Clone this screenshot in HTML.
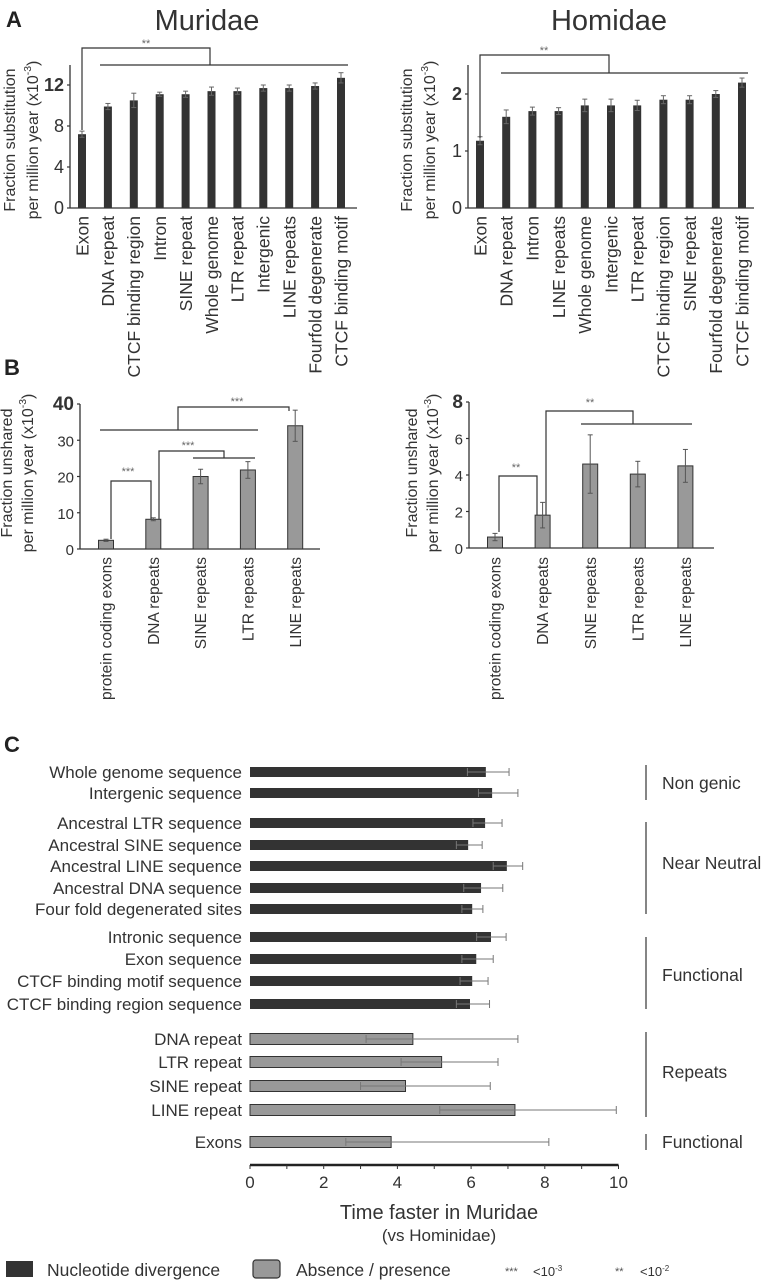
<!DOCTYPE html>
<html><head><meta charset="utf-8">
<style>
html,body{margin:0;padding:0;background:#fff;}
svg{display:block;font-family:"Liberation Sans",Arial,sans-serif;}
</style></head>
<body>
<svg id="fig" width="764" height="1280" viewBox="0 0 764 1280" xmlns="http://www.w3.org/2000/svg">
<text x="6" y="27" font-size="22" font-weight="bold" fill="#222">A</text>
<text x="207" y="30" font-size="29" text-anchor="middle" fill="#333">Muridae</text>
<text x="609" y="30" font-size="29" text-anchor="middle" fill="#333">Homidae</text>
<text x="4" y="375" font-size="22" font-weight="bold" fill="#222">B</text>
<text x="4" y="752" font-size="22" font-weight="bold" fill="#222">C</text>
<g id="root"></g>
</svg>
<script>
// ---- Panel A data ----
const aLeftCats = ["Exon","DNA repeat","CTCF binding region","Intron","SINE repeat","Whole genome","LTR repeat","Intergenic","LINE repeats","Fourfold degenerate","CTCF binding motif"];
const aLeftVals = [7.2,9.9,10.5,11.1,11.1,11.4,11.4,11.7,11.7,11.9,12.7];
const aLeftErr = [0.3,0.3,0.7,0.2,0.3,0.4,0.3,0.3,0.3,0.3,0.5];
const aLeftTicks = [0,4,8,12];
const aRightCats = ["Exon","DNA repeat","Intron","LINE repeats","Whole genome","Intergenic","LTR repeat","CTCF binding region","SINE repeat","Fourfold degenerate","CTCF binding motif"];
const aRightVals = [1.18,1.6,1.7,1.7,1.8,1.8,1.8,1.9,1.9,2.0,2.2];
const aRightErr = [0.07,0.12,0.07,0.06,0.11,0.11,0.09,0.07,0.07,0.06,0.08];
const aRightTicks = [0,1,2];
// ---- Panel B data ----
const bCats = ["protein coding exons","DNA repeats","SINE repeats","LTR repeats","LINE repeats"];
const bLeftVals = [2.4,8.2,20,21.8,34];
const bLeftErr = [0.3,0.4,2.0,2.3,4.3];
const bLeftTicks = [0,10,20,30,40];
const bRightVals = [0.6,1.8,4.6,4.05,4.5];
const bRightErr = [0.2,0.7,1.6,0.7,0.9];
const bRightTicks = [0,2,4,6,8];
// ---- Panel C data ----
const cCats = ["Whole genome sequence","Intergenic sequence","Ancestral LTR sequence","Ancestral SINE sequence","Ancestral LINE sequence","Ancestral DNA sequence","Four fold degenerated sites","Intronic sequence","Exon sequence","CTCF binding motif sequence","CTCF binding region sequence","DNA repeat","LTR repeat","SINE repeat","LINE repeat","Exons"];
const cVals = [6.4,6.57,6.38,5.92,6.97,6.27,6.03,6.54,6.14,6.03,5.97,4.42,5.2,4.22,7.19,3.83];
const cErrHi = [7.03,7.27,6.84,6.3,7.4,6.86,6.32,6.95,6.6,6.46,6.5,7.27,6.73,6.52,9.94,8.11];
const cErrLo = [5.9,6.2,6.05,5.6,6.6,5.8,5.75,6.15,5.75,5.7,5.6,3.15,4.1,3.0,5.15,2.6];
const cType = ["n","n","n","n","n","n","n","n","n","n","n","p","p","p","p","p"];
const cTicks = [0,2,4,6,8,10];

const NS="http://www.w3.org/2000/svg";
const root=document.getElementById('root');
function mk(tag,attrs,parent){const e=document.createElementNS(NS,tag);for(const k in attrs)e.setAttribute(k,attrs[k]);(parent||root).appendChild(e);return e;}
function ln(x1,y1,x2,y2,c,w){return mk('line',{x1,y1,x2,y2,stroke:c||'#333','stroke-width':w||1.2});}
function tx(x,y,s,size,anchor,extra){const t=mk('text',Object.assign({x,y,'font-size':size,'text-anchor':anchor||'start',fill:'#333'},extra||{}));t.textContent=s;return t;}

function vchart(o){
  const ys=v=>o.y0-(v-o.vmin)/(o.vmax-o.vmin)*(o.y0-o.yTop);
  const xs=i=>o.xFirst+i*o.step;
  const ax=ln(o.axX,o.axTop,o.axX,o.y0,'#333',1.3);
  
  
  const bx=ln(o.axX,o.y0,o.axRight,o.y0,'#333',1.3);
  
  
  o.ticks.forEach((t,i)=>{
    const last=i===o.ticks.length-1;
    ln(o.axX-3,ys(t),o.axX,ys(t));
    const lab=tx(o.axX-6,ys(t)+6,String(t),last?o.bigSize:o.tickSize,'end',last?{'font-weight':'bold'}:{});
    
    
  });
  o.vals.forEach((v,i)=>{
    const x=xs(i);
    const r=mk('rect',{x:x-o.bw/2,y:ys(v),width:o.bw,height:o.y0-ys(v),fill:o.fill,stroke:o.stroke||'none','stroke-width':1});
    
    
    const e=o.err[i];
    ln(x,ys(v+e),x,ys(v-e),o.errC,1);
    ln(x-2.5,ys(v+e),x+2.5,ys(v+e),o.errC,1);
    ln(x-2.5,ys(v-e),x+2.5,ys(v-e),o.errC,1);
    const lx=x+o.labSize*0.36;
    const lab=tx(lx,o.labTop,o.cats[i],o.labSize,'end',{transform:`rotate(-90 ${lx} ${o.labTop})`});
    
    
  });
  const yl1=tx(o.ylX1,o.ylY,o.yl1,o.ylSize,'middle',{transform:`rotate(-90 ${o.ylX1} ${o.ylY})`});
  
  
  const yl2=mk('text',{x:o.ylX2,y:o.ylY,'font-size':o.ylSize,'text-anchor':'middle',fill:'#333',transform:`rotate(-90 ${o.ylX2} ${o.ylY})`});
  
  
  yl2.appendChild(document.createTextNode('per million year (x10'));
  const sup=mk('tspan',{'font-size':o.ylSize*0.65,dy:-7},yl2);sup.textContent='-3';
  const cl=mk('tspan',{dy:7},yl2);cl.textContent=')';
  return {xs,ys};
}
function poly(pts,c){return mk('polyline',{points:pts.map(p=>p.join(',')).join(' '),fill:'none',stroke:c||'#333','stroke-width':1.2});}
function stars(x,y,s){const t=tx(x,y,s,11,'middle',{fill:'#666'});}

vchart({name:'muridae',cats:aLeftCats,vals:aLeftVals,err:aLeftErr,ticks:aLeftTicks,vmin:0,vmax:12,y0:208,yTop:85,axX:70,axTop:65,axRight:357,xFirst:82,step:25.9,bw:8,fill:'#333',errC:'#666',labTop:216,labSize:17.5,tickSize:18,bigSize:18,ylX1:15,ylX2:38,ylY:140,yl1:'Fraction substitution',ylSize:16});
poly([[82,130],[82,48],[210,48],[210,65]]);ln(100,65,348,65);stars(146,47,'**');
vchart({name:'homidae',cats:aRightCats,vals:aRightVals,err:aRightErr,ticks:aRightTicks,vmin:0,vmax:2,y0:208,yTop:94,axX:468,axTop:65,axRight:754,xFirst:480,step:26.2,bw:8,fill:'#333',errC:'#666',labTop:216,labSize:17.5,tickSize:18,bigSize:18,ylX1:412,ylX2:435,ylY:140,yl1:'Fraction substitution',ylSize:16});
poly([[480,138],[480,55],[609,55],[609,73]]);ln(501,73,748,73);stars(544,54,'**');
vchart({name:'unshared-muridae',cats:bCats,vals:bLeftVals,err:bLeftErr,ticks:bLeftTicks,vmin:0,vmax:40,y0:549,yTop:404,axX:80,axTop:404,axRight:320,xFirst:106,step:47.3,bw:15,fill:'#999',stroke:'#333',errC:'#555',labTop:557,labSize:15.5,tickSize:15,bigSize:19,ylX1:12,ylX2:33,ylY:473,yl1:'Fraction unshared',ylSize:16});
poly([[111,539],[111,481],[151,481],[151,519]]);stars(128,475,'***');
poly([[159,519],[159,451],[224,451],[224,458]]);ln(193,458,255,458);stars(188,449,'***');
ln(100,430,258,430);poly([[178,430],[178,407],[289,407],[289,411]]);stars(237,405,'***');
vchart({name:'unshared-homidae',cats:bCats,vals:bRightVals,err:bRightErr,ticks:bRightTicks,vmin:0,vmax:8,y0:548,yTop:402,axX:469,axTop:402,axRight:714,xFirst:495,step:47.6,bw:15,fill:'#999',stroke:'#333',errC:'#555',labTop:557,labSize:15.5,tickSize:15,bigSize:19,ylX1:417,ylX2:438,ylY:473,yl1:'Fraction unshared',ylSize:16});
poly([[499,532],[499,476],[537,476],[537,515]]);stars(516,471,'**');
poly([[546,515],[546,411],[633,411],[633,424]]);ln(581,424,692,424);stars(590,406,'**');

const cX=v=>250+v*36.85;
const cRowY=[772,793,823,845,866,888,909,937,959,981,1004,1039,1062,1086,1110,1142];
cCats.forEach((c,i)=>{
  const y=cRowY[i];const p=cType[i]==='p';const h=p?11:10;
  const lab=tx(242,y+6,c,17,'end');
  
  
  const r=mk('rect',{x:250,y:y-h/2,width:cX(cVals[i])-250,height:h,fill:p?'#999':'#333',stroke:'#333','stroke-width':p?1:0});
  
  
  ln(cX(cErrLo[i]),y,cX(cErrHi[i]),y,'#777',1);
  ln(cX(cErrHi[i]),y-4,cX(cErrHi[i]),y+4,'#777',1);
  ln(cX(cErrLo[i]),y-4,cX(cErrLo[i]),y+4,'#777',1);
});
const cax=ln(250,1165,cX(10),1165,'#222',2.5);


for(let v=0;v<=10;v++){ln(cX(v),1165,cX(v),1169,'#333',1);}
cTicks.forEach(t=>{const l=tx(cX(t),1188,String(t),17,'middle');});
let t1=tx(439,1219,'Time faster in Muridae',20,'middle');
let t2=tx(439,1241,'(vs Hominidae)',17,'middle');
const gSpans=[[765,800,789,'Non genic'],[822,914,869,'Near Neutral'],[937,1009,981,'Functional'],[1032,1117,1078,'Repeats'],[1134,1150,1148,'Functional']];
gSpans.forEach(g=>{ln(646,g[0],646,g[1],'#333',1.2);const l=tx(662,g[2],g[3],17.5,'start');});
let lg1=mk('rect',{x:6,y:1261,width:27,height:16,fill:'#333'});
let lt1=tx(47,1276,'Nucleotide divergence',17.5);
let lg2=mk('rect',{x:253,y:1260,width:27,height:18,rx:3,fill:'#999',stroke:'#333','stroke-width':1.2});
let lt2=tx(296,1276,'Absence / presence',17.5);
let lt3=tx(505,1275,'***',11,'start',{fill:'#555'});
let lt4=mk('text',{x:533,y:1276,'font-size':13,fill:'#333'});
lt4.textContent='<10';let s3=mk('tspan',{'font-size':8,dy:-5},lt4);s3.textContent='-3';
let lt5=tx(615,1275,'**',11,'start',{fill:'#555'});
let lt6=mk('text',{x:640,y:1276,'font-size':13,fill:'#333'});
lt6.textContent='<10';let s2=mk('tspan',{'font-size':8,dy:-5},lt6);s2.textContent='-2';
</script>
</body></html>
